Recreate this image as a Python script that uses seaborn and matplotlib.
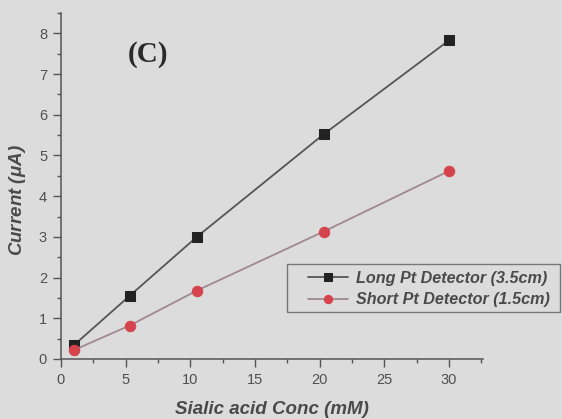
import matplotlib
matplotlib.use("Agg")
import matplotlib.pyplot as plt
import seaborn as sns
import pandas as pd
from matplotlib.ticker import MultipleLocator
from matplotlib.patches import Rectangle

# Sialic acid concentration (mM) and measured current (uA)
conc = [1.0, 5.3, 10.5, 20.3, 30.0]
long_current = [0.34, 1.55, 3.0, 5.52, 7.83]
short_current = [0.22, 0.82, 1.68, 3.13, 4.62]
series_names = ["Long Pt Detector (3.5cm)", "Short Pt Detector (1.5cm)"]

df = pd.DataFrame({
    "conc": conc * 2,
    "current": long_current + short_current,
    "detector": [series_names[0]] * len(conc) + [series_names[1]] * len(conc),
})

sns.set_style("ticks")
plt.rcParams["font.family"] = ["Liberation Sans", "DejaVu Sans"]
plt.rcParams["mathtext.fontset"] = "custom"
plt.rcParams["mathtext.it"] = "Liberation Sans:italic:bold"

bg = "#dcdcdc"
txt = "#4a4a4a"
axis_col = "#555555"

fig = plt.figure(figsize=(5.62, 4.19), dpi=100, facecolor=bg)
ax = fig.add_axes([0.1085, 0.1432, 0.7505, 0.8258])
ax.set_facecolor(bg)

line_colors = {series_names[0]: "#555555", series_names[1]: "#a08890"}
marker_colors = {series_names[0]: "#222222", series_names[1]: "#d5444c"}
marker_shapes = {series_names[0]: "s", series_names[1]: "o"}

for name in series_names:
    sub = df[df["detector"] == name]
    sns.lineplot(data=sub, x="conc", y="current", ax=ax, color=line_colors[name],
                 lw=1.3, marker=marker_shapes[name], markersize=7.5,
                 markerfacecolor=marker_colors[name], markeredgecolor=marker_colors[name],
                 label=name)

ax.set_xlim(0, 32.6)
ax.set_ylim(0, 8.5)
ax.xaxis.set_major_locator(MultipleLocator(5))
ax.xaxis.set_minor_locator(MultipleLocator(2.5))
ax.yaxis.set_major_locator(MultipleLocator(1))
ax.yaxis.set_minor_locator(MultipleLocator(0.5))

for side in ["top", "right"]:
    ax.spines[side].set_visible(False)
for side in ["left", "bottom"]:
    ax.spines[side].set_color(axis_col)
    ax.spines[side].set_linewidth(1.1)

ax.tick_params(which="major", length=6, width=1.0, color=axis_col,
               labelsize=10.5, labelcolor="#505050", pad=4)
ax.tick_params(which="minor", length=3, width=1.0, color=axis_col)

ax.set_xlabel("Sialic acid Conc (mM)", fontsize=13.5, style="italic",
              fontweight="bold", color=txt, labelpad=10)
ax.set_ylabel("Current ($\\mu$A)", fontsize=13.5, style="italic",
              fontweight="bold", color=txt)
ax.yaxis.set_label_coords(-0.078, 0.46)

fig.text(0.263, 0.871, "(C)", ha="center", va="center",
         fontsize=21, fontweight="bold", family="Liberation Serif", color="#2a2a2a")

# legend box drawn as a patch in figure coordinates, entries placed inside it
ax.add_patch(Rectangle((287 / 562, 1 - 312 / 419), 273 / 562, 48 / 419,
                       transform=fig.transFigure, facecolor=bg, clip_on=False,
                       edgecolor="#777777", lw=1.0, zorder=4))
leg = ax.legend(loc="center left", bbox_to_anchor=(300 / 562, 1 - 289 / 419),
                bbox_transform=fig.transFigure, frameon=False,
                fontsize=11.6, handlelength=2.5, borderpad=0.0, labelspacing=0.4,
                handletextpad=0.45, markerscale=0.8)
leg.set_zorder(6)
for t in leg.get_texts():
    t.set_style("italic")
    t.set_fontweight("bold")
    t.set_color(txt)

fig.savefig("out.png", dpi=100, facecolor=bg)
